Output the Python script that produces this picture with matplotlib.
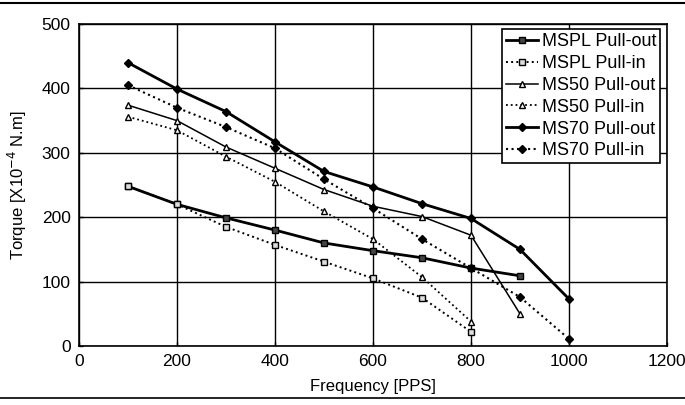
import matplotlib
matplotlib.use("Agg")
import matplotlib.pyplot as plt
from matplotlib.lines import Line2D

plt.rcParams['font.family'] = ['Liberation Sans', 'DejaVu Sans']

freq = [100, 200, 300, 400, 500, 600, 700, 800, 900, 1000]

mspl_out = [248, 220, 199, 180, 160, 148, 137, 121, 109]
mspl_in = [248, 220, 185, 157, 131, 105, 75, 22]
ms50_out = [374, 350, 309, 276, 243, 217, 201, 172, 50]
ms50_in = [356, 335, 294, 255, 209, 166, 107, 38]
ms70_out = [440, 399, 364, 317, 271, 247, 221, 198, 150, 73]
ms70_in = [405, 370, 340, 307, 259, 214, 166, 121, 76, 11]

labels = ["MSPL Pull-out", "MSPL Pull-in", "MS50 Pull-out",
          "MS50 Pull-in", "MS70 Pull-out", "MS70 Pull-in"]

fig = plt.figure(figsize=(6.85, 4.05), dpi=100)
ax = fig.add_axes([0.1153, 0.1457, 0.8584, 0.795])

ax.grid(True, color='black', linewidth=1.0, linestyle='-')
ax.set_axisbelow(True)

ax.plot(freq[:len(mspl_out)], mspl_out, '-', color='black', lw=2.0,
        marker='s', ms=5, mfc='#444444', mec='black', label=labels[0])
ax.plot(freq[:len(mspl_in)], mspl_in, ':', color='black', lw=1.4,
        marker='s', ms=5, mfc='#dddddd', mec='black', label=labels[1])
ax.plot(freq[:len(ms50_out)], ms50_out, '-', color='black', lw=1.1,
        marker='^', ms=4, mfc='white', mec='black', label=labels[2])
ax.plot(freq[:len(ms50_in)], ms50_in, ':', color='black', lw=1.3,
        marker='^', ms=4, mfc='white', mec='black', label=labels[3])
ax.plot(freq, ms70_out, '-', color='black', lw=2.0,
        marker='D', ms=4, mfc='black', mec='black', label=labels[4])
ax.plot(freq, ms70_in, ':', color='black', lw=1.5,
        marker='D', ms=4, mfc='black', mec='black', label=labels[5])

ax.set_xlim(0, 1200)
ax.set_ylim(0, 500)
ax.set_xticks([0, 200, 400, 600, 800, 1000, 1200])
ax.set_yticks([0, 100, 200, 300, 400, 500])
ax.tick_params(direction='in', length=3, labelsize=12.5, pad=6, width=1)
for s in ax.spines.values():
    s.set_linewidth(1.2)

ax.set_xlabel('Frequency [PPS]', fontsize=12, labelpad=7)
ax.set_ylabel('Torque [X10$^{-4}$ N.m]', fontsize=12, labelpad=9)

leg = ax.legend(loc='upper right', bbox_to_anchor=(0.988, 0.983),
                fontsize=13, frameon=True, fancybox=False,
                edgecolor='black', framealpha=1, borderpad=0.2,
                labelspacing=0.27, handlelength=1.8, handletextpad=0.2,
                borderaxespad=0)
leg.get_frame().set_linewidth(1.2)

# page rules from the scan
fig.add_artist(Line2D([0, 1], [0.993, 0.993], color='black', lw=1.5))
fig.add_artist(Line2D([0, 1], [0.017, 0.017], color='black', lw=1.2))

fig.savefig('out.png', dpi=100)
